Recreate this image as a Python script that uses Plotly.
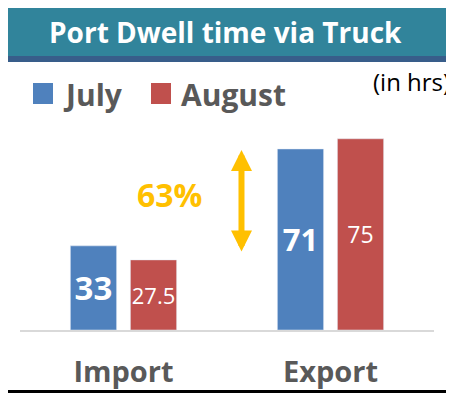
import plotly.graph_objects as go

# ----------- data -------------
categories = ["Import", "Export"]
series_names = ["July", "August"]
july_hrs = [33, 71]
august_hrs = [27.5, 75]
change_label = "63%"

blue = "#4f81bd"
red = "#c0504d"
grey_txt = "#595959"
orange = "#ffc000"
font_main = "Open Sans"

# page body has an 8px margin all round, so the figure is drawn smaller
OFF = 8
W, H = 454 - OFF, 401 - 2 * OFF
L, R, T, B = 12, 20, 117, 63
PW, PH = W - L - R, H - T - B
YMAX = 80.4


# reference-pixel -> paper helpers for the decoration
def px(x):
    return (x - OFF - L) / PW


def py(y):
    return (H - B - (y - OFF)) / PH


def box(x0, y0, x1, y1, color):
    return dict(type="rect", xref="paper", yref="paper", x0=px(x0), x1=px(x1),
                y0=py(y1), y1=py(y0), line_width=0, fillcolor=color)


fig = go.Figure()
fig.add_trace(go.Bar(x=categories, y=july_hrs, name=series_names[0], marker_color=blue,
                     texttemplate="<b>%{y}</b>", textposition="inside", insidetextanchor="middle",
                     textangle=0, constraintext="none",
                     textfont=dict(color="white", size=[33, 31], family=font_main),
                     showlegend=False))
fig.add_trace(go.Bar(x=categories, y=august_hrs, name=series_names[1], marker_color=red,
                     texttemplate="%{y}", textposition="inside", insidetextanchor="middle",
                     textangle=0, constraintext="none",
                     textfont=dict(color="white", size=[22, 23], family=font_main),
                     showlegend=False))

shapes = [
    # black frame (left, right, bottom)
    box(0, 60, 3, 401, "black"),
    box(448, 60, 451, 401, "black"),
    box(0, 390, 451, 401, "black"),
    # title bar
    box(0, 0, 454, 62, "#385d8a"),
    box(3.5, 3.5, 450.5, 56, "#31849b"),
    # legend swatches
    box(33, 83, 53, 104, blue),
    box(151, 83, 171, 104, red),
]

annotations = [
    dict(text="<b>Port Dwell time via Truck</b>", xref="paper", yref="paper", x=px(225), y=py(32),
         xanchor="center", yanchor="middle", showarrow=False,
         font=dict(color="white", size=28, family=font_main)),
    dict(text="<b>" + series_names[0] + "</b>", xref="paper", yref="paper", x=px(61), y=py(94),
         xanchor="left", yanchor="middle", showarrow=False,
         font=dict(color=grey_txt, size=30, family=font_main)),
    dict(text="<b>" + series_names[1] + "</b>", xref="paper", yref="paper", x=px(179), y=py(94),
         xanchor="left", yanchor="middle", showarrow=False,
         font=dict(color=grey_txt, size=30, family=font_main)),
    dict(text="(in hrs)", xref="paper", yref="paper", x=px(452), y=py(81),
         xanchor="right", yanchor="middle", showarrow=False,
         font=dict(color="black", size=24, family=font_main)),
    dict(text="<b>" + change_label + "</b>", x=0.222, y=53.3, showarrow=False,
         xanchor="center", yanchor="middle",
         font=dict(color=orange, size=32, family=font_main)),
    # double arrow
    dict(x=0.57, y=70.6, ax=0.57, ay=30.2, xref="x", yref="y", axref="x", ayref="y", text="",
         showarrow=True, arrowside="end+start", arrowhead=2, arrowsize=0.7, arrowwidth=6,
         arrowcolor=orange),
]

fig.update_layout(
    width=W, height=H,
    margin=dict(l=L, r=R, t=T, b=B, autoexpand=False),
    paper_bgcolor="white", plot_bgcolor="rgba(0,0,0,0)",
    barmode="group", bargap=0.42, bargroupgap=0.23,
    shapes=shapes, annotations=annotations,
    font=dict(family=font_main),
)
fig.update_xaxes(range=[-0.5, 1.5], showline=True, linecolor="#d9d9d9", linewidth=2,
                 ticks="", ticklabelstandoff=15, automargin=False,
                 tickfont=dict(color=grey_txt, size=29, family=font_main, weight="bold"))
fig.update_yaxes(range=[0, YMAX], visible=False, showgrid=False, automargin=False)

fig.write_html("out.html")
